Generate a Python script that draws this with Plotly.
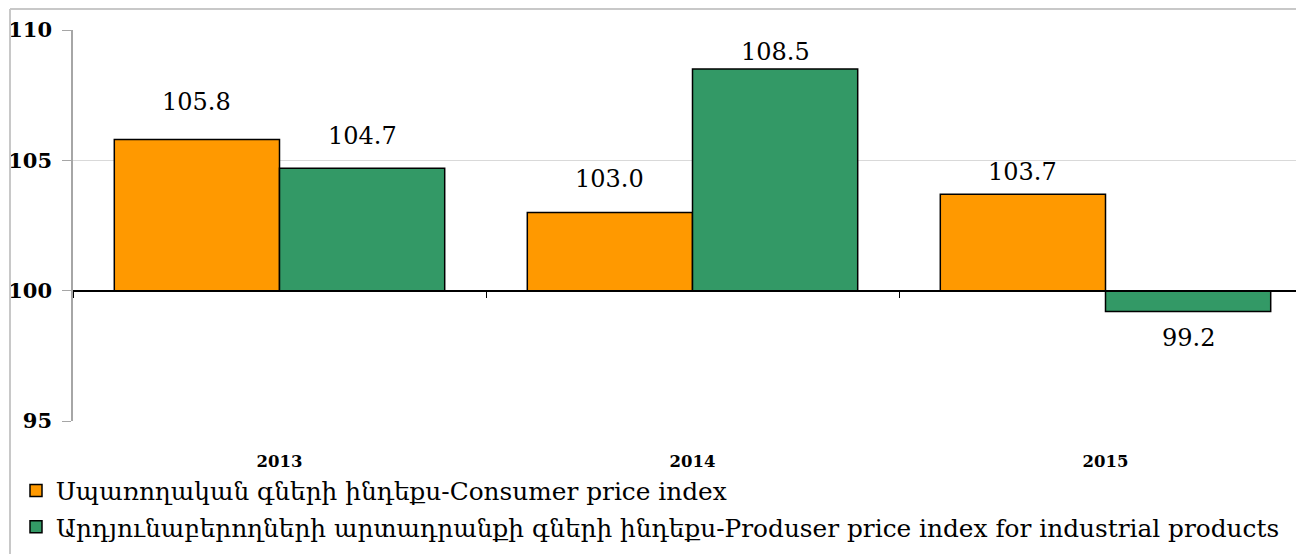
import plotly.graph_objects as go

categories = ["2013", "2014", "2015"]
cpi = [105.8, 103.0, 103.7]
ppi = [104.7, 108.5, 99.2]
series_names = [
    "Սպառողական գների ինդեքս-Consumer price index",
    "Արդյունաբերողների արտադրանքի գների ինդեքս-Produser price index for industrial products",
]
y_ticks = [95, 100, 105, 110]
BASE = 100

FONT = "DejaVu Serif"
W, H = 1304, 554
OFF = 8  # page body margin
ML, MR, MT, MB = 73 - OFF, 0, 30 - OFF, 133 + OFF
plot_w = W - ML - MR
plot_h = H - MT - MB

fig = go.Figure()
colors = ["#FF9900", "#339966"]
for name, vals, col in zip(series_names, [cpi, ppi], colors):
    fig.add_trace(go.Bar(
        x=categories, y=[v - BASE for v in vals], base=BASE,
        name=name, marker=dict(color=col, line=dict(color="black", width=1.5)),
        legendgroup=name, hoverinfo="skip",
    ))

# data labels (offsets in pixels, styles only)
label_shift = [[37, 33, 22], [32, 17, -26]]
for si, vals in enumerate([cpi, ppi]):
    for ci, v in enumerate(vals):
        fig.add_annotation(
            x=ci + (-0.2 if si == 0 else 0.2), y=v, xref="x", yref="y",
            text=f"{v:.1f}", showarrow=False,
            yshift=label_shift[si][ci],
            font=dict(family=FONT, size=24, color="black"),
        )

# outer light border (top and left edges visible)
bx0 = (2 - ML) / plot_w
by1 = 1 + (MT - 1) / plot_h
fig.add_shape(type="line", xref="paper", yref="paper",
              x0=bx0, x1=1.05, y0=by1, y1=by1,
              line=dict(color="#c8c8c8", width=2), layer="above")
fig.add_shape(type="line", xref="paper", yref="paper",
              x0=bx0, x1=bx0, y0=-0.5, y1=by1,
              line=dict(color="#c8c8c8", width=2), layer="above")

fig.update_layout(
    width=W, height=H,
    margin=dict(l=ML, r=MR, t=MT, b=MB, autoexpand=False),
    paper_bgcolor="white", plot_bgcolor="white",
    barmode="group", bargap=0.2, bargroupgap=0,
    font=dict(family=FONT, color="black"),
    showlegend=True,
    legend=dict(
        x=(8 - ML) / plot_w, y=-(460 - (MT + plot_h)) / plot_h,
        xanchor="left", yanchor="top",
        orientation="v", font=dict(family=FONT, size=24.8, color="black"),
        tracegroupgap=1, itemwidth=30, bgcolor="rgba(0,0,0,0)",
    ),
    xaxis=dict(
        type="category", anchor="free", position=(BASE - 95) / (110 - 95),
        showline=True, linecolor="black", linewidth=1.5,
        ticks="outside", tickson="boundaries", ticklen=7, tickcolor="black", tickwidth=1,
        ticklabelstandoff=156,
        tickfont=dict(family=FONT, size=16.5, color="black", weight="bold"),
        showgrid=False, zeroline=False,
    ),
    yaxis=dict(
        range=[95, 110], tickvals=y_ticks, ticktext=[str(t) for t in y_ticks],
        showline=True, linecolor="#a6a6a6", linewidth=1.5,
        ticks="outside", ticklen=9, tickcolor="#a6a6a6",
        showgrid=True, gridcolor="#d9d9d9", gridwidth=1,
        zeroline=False, ticklabelstandoff=6,
        tickfont=dict(family=FONT, size=21, color="black", weight="bold"),
    ),
)

fig.write_html("out.html")
